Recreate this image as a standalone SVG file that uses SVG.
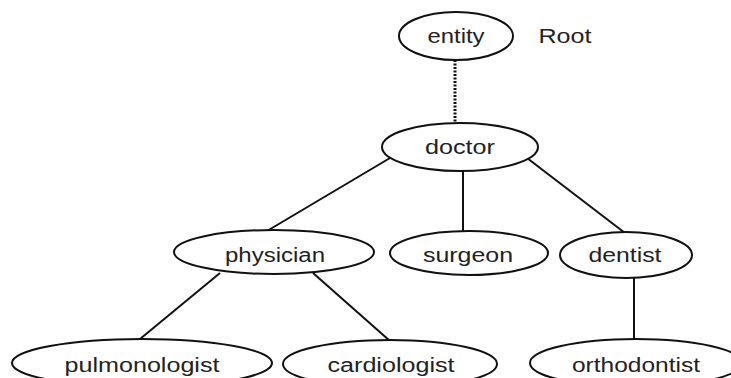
<svg xmlns="http://www.w3.org/2000/svg" width="731" height="378" viewBox="0 0 731 378">
<style>
.n{fill:#fff;stroke:#111;stroke-width:2}
.t{font-family:"Liberation Sans",Arial,sans-serif;font-size:20px;fill:#222;text-anchor:middle}
.e{stroke:#111;stroke-width:2;fill:none}
.d{stroke:#111;stroke-width:3;stroke-dasharray:2 1.5;fill:none}
</style>
<rect width="731" height="378" fill="#fff"/>
<g id="connectors">
<line class="d" x1="455" y1="60" x2="455" y2="123"/>
<line class="e" x1="390" y1="158" x2="267" y2="231"/>
<line class="e" x1="463" y1="171" x2="463" y2="231"/>
<line class="e" x1="527" y1="158" x2="625" y2="233"/>
<line class="e" x1="220" y1="273" x2="140" y2="339"/>
<line class="e" x1="313" y1="273" x2="390" y2="341"/>
<line class="e" x1="634" y1="278" x2="634" y2="340"/>
</g>
<g id="entity"><ellipse class="n" cx="456" cy="36" rx="57" ry="24"/><text class="t" x="456" y="43" textLength="57" lengthAdjust="spacingAndGlyphs">entity</text></g>
<g id="root-label"><text class="t" x="565" y="43" textLength="53" lengthAdjust="spacingAndGlyphs">Root</text></g>
<g id="doctor"><ellipse class="n" cx="460" cy="147" rx="78" ry="24"/><text class="t" x="460" y="154" textLength="70" lengthAdjust="spacingAndGlyphs">doctor</text></g>
<g id="physician"><ellipse class="n" cx="274" cy="252" rx="100" ry="22"/><text class="t" x="275" y="262" textLength="100" lengthAdjust="spacingAndGlyphs">physician</text></g>
<g id="surgeon"><ellipse class="n" cx="469" cy="253" rx="79" ry="22"/><text class="t" x="468" y="262" textLength="90" lengthAdjust="spacingAndGlyphs">surgeon</text></g>
<g id="dentist"><ellipse class="n" cx="626" cy="255" rx="66" ry="23"/><text class="t" x="625" y="262" textLength="73" lengthAdjust="spacingAndGlyphs">dentist</text></g>
<g id="pulmonologist"><ellipse class="n" cx="142" cy="363" rx="130" ry="24"/><text class="t" x="142" y="372" textLength="155" lengthAdjust="spacingAndGlyphs">pulmonologist</text></g>
<g id="cardiologist"><ellipse class="n" cx="390" cy="364" rx="107" ry="24"/><text class="t" x="391" y="372" textLength="127" lengthAdjust="spacingAndGlyphs">cardiologist</text></g>
<g id="orthodontist"><ellipse class="n" cx="636" cy="363" rx="106" ry="24"/><text class="t" x="636" y="372" textLength="128" lengthAdjust="spacingAndGlyphs">orthodontist</text></g>
</svg>
